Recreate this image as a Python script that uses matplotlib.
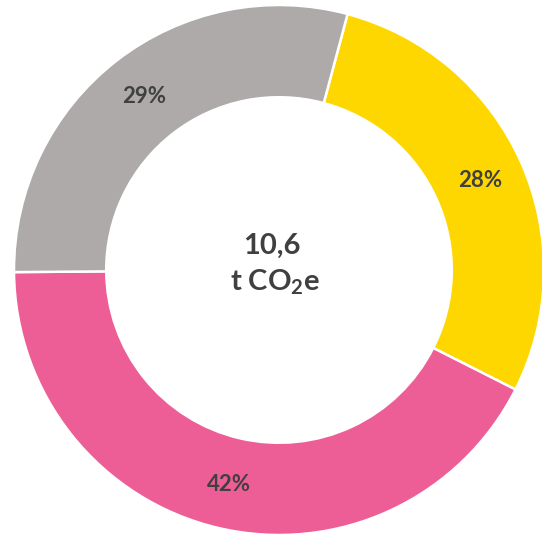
import matplotlib.pyplot as plt

plt.rcParams['font.family'] = ['Lato', 'DejaVu Sans']
plt.rcParams['mathtext.fontset'] = 'custom'
plt.rcParams['mathtext.bf'] = 'Lato:bold'
plt.rcParams['mathtext.rm'] = 'Lato:bold'
plt.rcParams['mathtext.default'] = 'bf'

# data
labels = ['Yellow', 'Pink', 'Gray']
values = [28, 42, 29]
colors = ['#FFD700', '#EE5E96', '#AEAAAA']
center_value = '10,6'
center_unit = 't CO$_2$e'
text_color = '#404040'

fig = plt.figure(figsize=(5.42, 5.39), dpi=100)
# donut is slightly cut off on the right edge in the reference
ax = fig.add_axes([14 / 542, 4 / 539, 530 / 542, 530 / 539])

wedges, texts, autotexts = ax.pie(
    values, colors=colors, startangle=75, counterclock=False,
    radius=1.0, autopct='%1.0f%%', pctdistance=0.83,
    wedgeprops=dict(width=0.348, edgecolor='white', linewidth=1.8),
    textprops=dict(color=text_color, fontsize=16, fontweight='bold'))

ax.text(-0.025, 0.09, center_value, ha='center', va='center',
        fontsize=21, fontweight='bold', color=text_color)
ax.text(-0.015, -0.045, center_unit, ha='center', va='center',
        fontsize=21, fontweight='bold', color=text_color)

ax.set_xlim(-1, 1)
ax.set_ylim(-1, 1)
ax.set_aspect('equal')
ax.axis('off')

fig.savefig('out.png', dpi=100)
